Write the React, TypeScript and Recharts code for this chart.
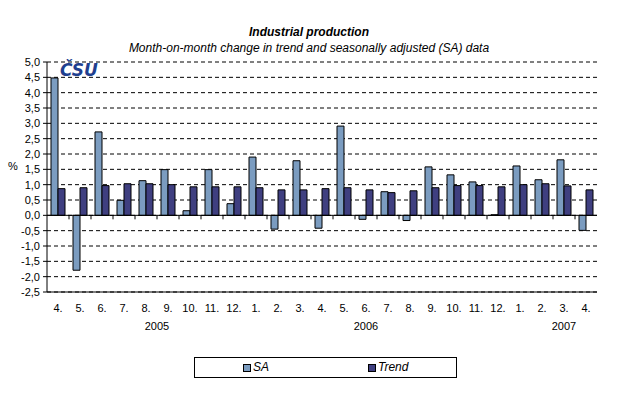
import React from 'react';
import { BarChart, Bar, XAxis, YAxis, CartesianGrid, ReferenceLine, Legend } from 'recharts';

const months = ['4.', '5.', '6.', '7.', '8.', '9.', '10.', '11.', '12.', '1.', '2.', '3.', '4.', '5.', '6.', '7.', '8.', '9.', '10.', '11.', '12.', '1.', '2.', '3.', '4.'];
const yearLabels = ['', '', '', '', '2005', '', '', '', '', '', '', '', '', '', '2006', '', '', '', '', '', '', '', '', '2007', ''];
const saValues = [4.48, -1.79, 2.72, 0.49, 1.13, 1.49, 0.15, 1.49, 0.38, 1.9, -0.45, 1.78, -0.42, 2.91, -0.13, 0.77, -0.17, 1.58, 1.32, 1.09, 0.02, 1.61, 1.16, 1.81, -0.49];
const trendValues = [0.87, 0.9, 0.97, 1.03, 1.03, 1.0, 0.93, 0.93, 0.93, 0.9, 0.83, 0.83, 0.87, 0.9, 0.83, 0.74, 0.8, 0.9, 0.97, 0.97, 0.93, 1.0, 1.03, 0.96, 0.83];
const yTicks = [-2.5, -2, -1.5, -1, -0.5, 0, 0.5, 1, 1.5, 2, 2.5, 3, 3.5, 4, 4.5, 5];

const data = months.map((m, i) => ({ month: m, sa: saValues[i], trend: trendValues[i] }));

const W = 618;
const H = 397;
const MARGIN = { top: 62, right: 21, left: 0, bottom: 75 };
const Y_AXIS_W = 47;
const X_AXIS_H = 30;
const PLOT_BOTTOM = H - MARGIN.bottom - X_AXIS_H;
const PLOT_H = PLOT_BOTTOM - MARGIN.top;
const PLOT_W = W - MARGIN.right - Y_AXIS_W;
const BAND = PLOT_W / months.length;
const ZERO_Y = MARGIN.top + PLOT_H * (5 / 7.5);

const SA_COLOR = '#7b9cc0';
const TREND_COLOR = '#3f3f80';
const FONT = '"Liberation Sans", Arial, sans-serif';

const MonthTick = (props: any) => {
  const { x, payload, index } = props;
  const yr = yearLabels[index];
  return (
    <g>
      {index > 0 && (
        <line x1={x - BAND / 2} x2={x - BAND / 2} y1={ZERO_Y} y2={ZERO_Y + 4} stroke="#000" />
      )}
      <text x={x} y={PLOT_BOTTOM + 20} textAnchor="middle" fontSize={11} fontFamily={FONT} fill="#000">
        {payload.value}
      </text>
      {yr && (
        <text x={x + (index === 4 ? BAND / 2 : 0)} y={PLOT_BOTTOM + 38} textAnchor="middle" fontSize={11} fontFamily={FONT} fill="#000">
          {yr}
        </text>
      )}
    </g>
  );
};

const LegendBox = () => (
  <div style={{ position: 'relative', width: 263, height: 21, border: '1px solid #000', boxSizing: 'border-box', fontFamily: FONT, fontStyle: 'italic', fontSize: 12, background: '#fff' }}>
    <span style={{ position: 'absolute', left: 48, top: 6, width: 6, height: 6, background: SA_COLOR, border: '1px solid #000' }} />
    <span style={{ position: 'absolute', left: 58, top: 2 }}>SA</span>
    <span style={{ position: 'absolute', left: 173, top: 6, width: 6, height: 6, background: TREND_COLOR, border: '1px solid #000' }} />
    <span style={{ position: 'absolute', left: 183, top: 2 }}>Trend</span>
  </div>
);

export default function App() {
  return (
    <div style={{ position: 'absolute', left: 0, top: 0, width: W, height: H, background: '#fff', fontFamily: FONT }}>
      <div style={{ position: 'absolute', left: 0, width: W, top: 25, textAlign: 'center', fontSize: 12, fontWeight: 'bold', fontStyle: 'italic' }}>
        Industrial production
      </div>
      <div style={{ position: 'absolute', left: 0, width: W, top: 41, textAlign: 'center', fontSize: 12, fontStyle: 'italic' }}>
        Month-on-month change in trend and seasonally adjusted (SA) data
      </div>
      <BarChart width={W} height={H} data={data} margin={MARGIN} barGap={0} barCategoryGap={0}>
        <CartesianGrid vertical={false} stroke="#000" strokeDasharray="4 3" />
        <XAxis
          dataKey="month"
          height={X_AXIS_H}
          interval={0}
          tick={<MonthTick />}
          tickLine={false}
          axisLine={{ stroke: '#000' }}
        />
        <XAxis xAxisId="top" dataKey="month" orientation="top" height={0} tick={false} tickLine={false} axisLine={{ stroke: '#000' }} />
        <YAxis
          domain={[-2.5, 5]}
          ticks={yTicks}
          interval={0}
          width={Y_AXIS_W}
          tickSize={4}
          tickMargin={3}
          tick={{ fontSize: 11, fill: '#000', fontFamily: FONT }}
          tickFormatter={(v: number) => v.toFixed(1).replace('.', ',')}
          axisLine={{ stroke: '#000' }}
          tickLine={{ stroke: '#000' }}
          label={{ value: '%', position: 'insideLeft', offset: 8, dy: -11, fontSize: 11, fill: '#000', fontFamily: FONT }}
        />
        <YAxis yAxisId="r" orientation="right" domain={[-2.5, 5]} width={0} tick={false} tickLine={false} axisLine={{ stroke: '#000' }} />
        <ReferenceLine y={0} stroke="#000" />
        <Bar dataKey="sa" name="SA" fill={SA_COLOR} stroke="#000" strokeWidth={1} barSize={7} isAnimationActive={false} />
        <Bar dataKey="trend" name="Trend" fill={TREND_COLOR} stroke="#000" strokeWidth={1} barSize={7} isAnimationActive={false} />
        <Legend
          layout="horizontal"
          verticalAlign="middle"
          align="center"
          wrapperStyle={{ position: 'absolute', left: 194, top: 357, width: 263, height: 21 }}
          content={<LegendBox />}
        />
      </BarChart>
      <div style={{ position: 'absolute', left: 60, top: 60, fontFamily: '"DejaVu Sans", sans-serif', fontWeight: 'bold', fontStyle: 'italic', fontSize: 17, color: '#1f3f8f', letterSpacing: 0 }}>
        ČSU
      </div>
    </div>
  );
}
